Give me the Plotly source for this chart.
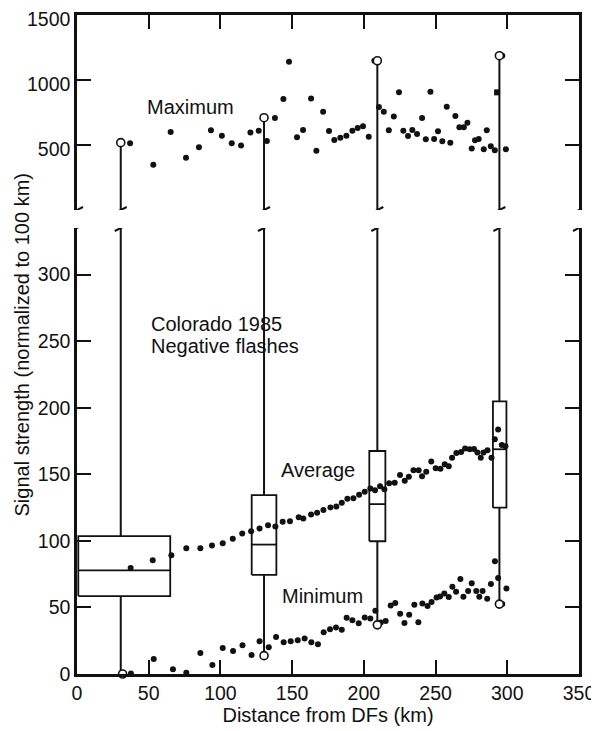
import plotly.graph_objects as go

# ---------------- data ----------------
max_x = [37, 53.2, 65.3, 76, 85, 93.4, 101, 107.9, 114.4, 120.9, 126.7, 132.4, 138, 143.9, 147.8,
         153.4, 157.6, 163.2, 166.9, 171.6, 175.7, 179.4, 183.6, 187.8, 192, 195.7, 199.4, 203.4,
         207.3, 210.5, 213.9, 217.4, 220.9, 224.5, 227.5, 230.8, 233.8, 237.1, 240.6, 243.2, 246.4,
         249, 251.7, 254.7, 257.8, 260.3, 263.8, 266.6, 269.7, 272.2, 275.2, 277.5, 280.1, 283.6,
         285.7, 288.5, 291.3, 296.5, 299]
max_y = [513, 349, 600, 402, 482, 613, 572, 513, 497, 597, 610, 531, 708, 854, 1141,
         559, 615, 857, 456, 756, 608, 538, 556, 572, 610, 631, 644, 564,
         1149, 793, 756, 613, 720, 905, 610, 569, 615, 585, 708, 544, 910,
         546, 605, 528, 795, 518, 723, 636, 636, 672, 474, 536, 546, 467,
         613, 490, 459, 1187, 467]
max_sq_x = [292.9]
max_sq_y = [905]

avg_x = [37.4, 52.8, 65.8, 76.2, 86, 94.1, 101.6, 108.6, 115.2, 121.4,
         127.3, 133.2, 138.3, 143.4, 148.5, 154.6, 157.8, 163.2, 167.4, 171.8,
         176.7, 180.8, 184.6, 188.5, 192.7, 196.7, 200.6, 204.5, 207.8, 211.3,
         214.3, 217.6, 221.5, 225.2, 228.5, 231.4, 234.6, 238.2, 240.6, 243.5,
         247, 250.1, 253.4, 256.4, 259.2, 261.5, 264.5, 267.8, 270.6, 273.8,
         276.8, 279.2, 281.5, 283.4, 286.2, 289, 291.3, 293.6, 296.2, 298.7]
avg_y = [79.6, 85.4, 89.2, 94.4, 94.4, 96.5, 98.2, 101.5, 105.6, 107.2,
         109.3, 111.8, 110.8, 114.3, 114.8, 117.8, 116.8, 119.8, 121.1, 123.1,
         125.1, 125.8, 128.6, 131.6, 132.1, 134.6, 136.9, 139.4, 138.1, 141.1,
         138.7, 143.2, 143.7, 149.5, 145.2, 148.2, 153.1, 153, 148.6, 151.9,
         159.6, 154.6, 154.2, 157.5, 156, 162.5, 166, 166.8, 169.3, 168.8,
         169, 166.3, 162.5, 166.3, 168, 162.5, 176.3, 183.6, 172, 171.1]

min_x = [37.6, 53.5, 66.9, 76.2, 86, 94.4, 101.6, 108.8, 115.4, 121.7,
         127.3, 133.7, 138.8, 144.1, 149, 153.9, 158.7, 163.4, 168, 172,
         176.4, 180.6, 184.6, 188, 192, 196.4, 200.6, 204.5, 208, 211.8,
         215.2, 218.7, 221.9, 225.3, 228.3, 231.6, 235.2, 238, 240.8, 244.4,
         247.2, 250.7, 253.1, 256.1, 259.2, 261.7, 264.3, 267.3, 269.4, 272.7,
         275.2, 278.4, 280.5, 282.8, 286, 288.6, 291.4, 293.6, 296.5, 299.4]
min_y = [0.3, 11.3, 3.5, 1, 15.8, 6.8, 19.6, 17.3, 21.6, 14.3,
         24.6, 20.1, 27.7, 23.9, 24.6, 25.4, 26.6, 23.9, 22.4, 31.4,
         33.7, 34.9, 33.2, 42.2, 40.4, 38.2, 42.4, 41.7, 47.5, 38.7,
         39.9, 51.5, 53.3, 45.2, 38.3, 44.5, 52, 38.8, 52.9, 51,
         54, 57.5, 58.3, 60.5, 57.8, 65.6, 61.8, 71.4, 58, 62.3,
         68.1, 62.3, 58, 62.3, 56.5, 67.6, 84.6, 72.1, 52.5, 64.3]

# box summaries (per distance bin)
box_whisker_x = [30.5, 130.4, 209.4, 294.5]
box_left = [0.9, 121.8, 203.8, 290.0]
box_right = [65.0, 139.0, 215.0, 299.4]
box_q1 = [58.5, 74.4, 99.7, 124.9]
box_med = [77.9, 97.2, 127.6, 168.8]
box_q3 = [103.5, 134.4, 167.5, 204.7]
box_min = [0, 13.8, 36.9, 52.5]
box_min_x = [31.8, 130.4, 209.4, 294.5]
box_max = [518, 710, 1148, 1187]

x_ticks = [0, 50, 100, 150, 200, 250, 300, 350]
y_low_ticks = [0, 50, 100, 150, 200, 250, 300]
y_high_ticks = [500, 1000, 1500]
LOW_TOP = 335
HIGH_BOTTOM = 0

FONT = "Liberation Sans, Arial, Helvetica, sans-serif"
INK = "#111111"

fig = go.Figure()

# --- boxes (bottom panel) ---
bx, by = [], []
for l, r, q1, md, q3 in zip(box_left, box_right, box_q1, box_med, box_q3):
    bx += [l, r, r, l, l, None, l, r, None]
    by += [q1, q1, q3, q3, q1, None, md, md, None]
fig.add_trace(go.Scatter(x=bx, y=by, mode="lines", line=dict(color=INK, width=1.8),
                         xaxis="x", yaxis="y", hoverinfo="skip", cliponaxis=False))

# --- whiskers ---
wx, wy = [], []
for x, q1, q3, mn in zip(box_whisker_x, box_q1, box_q3, box_min):
    wx += [x, x, None, x, x, None]
    wy += [q3, LOW_TOP, None, q1, mn, None]
fig.add_trace(go.Scatter(x=wx, y=wy, mode="lines", line=dict(color=INK, width=2),
                         xaxis="x", yaxis="y", hoverinfo="skip", cliponaxis=False))
wx2, wy2 = [], []
for x, mx in zip(box_whisker_x, box_max):
    wx2 += [x, x, None]
    wy2 += [HIGH_BOTTOM, mx, None]
fig.add_trace(go.Scatter(x=wx2, y=wy2, mode="lines", line=dict(color=INK, width=2),
                         xaxis="x2", yaxis="y2", hoverinfo="skip", cliponaxis=False))

dot = dict(color=INK, size=6)
# --- series points ---
fig.add_trace(go.Scatter(x=avg_x, y=avg_y, mode="markers", marker=dot,
                         xaxis="x", yaxis="y", cliponaxis=False))
fig.add_trace(go.Scatter(x=min_x, y=min_y, mode="markers", marker=dot,
                         xaxis="x", yaxis="y", cliponaxis=False))
fig.add_trace(go.Scatter(x=max_x, y=max_y, mode="markers", marker=dot,
                         xaxis="x2", yaxis="y2", cliponaxis=False))
fig.add_trace(go.Scatter(x=max_sq_x, y=max_sq_y, mode="markers",
                         marker=dict(color=INK, size=6, symbol="square"),
                         xaxis="x2", yaxis="y2", cliponaxis=False))

# --- open circles for extreme values ---
circ = dict(color="white", size=8, line=dict(color=INK, width=1.6))
fig.add_trace(go.Scatter(x=box_min_x, y=box_min, mode="markers", marker=circ,
                         xaxis="x", yaxis="y", cliponaxis=False))
fig.add_trace(go.Scatter(x=box_whisker_x, y=box_max, mode="markers", marker=circ,
                         xaxis="x2", yaxis="y2", cliponaxis=False))

# --- axis break marks ---
shapes = []
for bxp in [x_ticks[0]] + box_whisker_x + [x_ticks[-1]]:
    for yref, yanc in (("y2", HIGH_BOTTOM), ("y", LOW_TOP)):
        shapes.append(dict(type="line", xref="x", yref=yref, xsizemode="pixel", ysizemode="pixel",
                           xanchor=bxp, yanchor=yanc, x0=-6, x1=6, y0=-3, y1=3,
                           line=dict(color=INK, width=2)))

# --- annotations ---
tf = dict(family=FONT, size=20, color=INK)
annotations = [
    dict(x=79, y=795, xref="x2", yref="y2", text="Maximum", showarrow=False, font=tf),
    dict(x=50.5, y=263, xref="x", yref="y", text="Colorado 1985", showarrow=False,
         xanchor="left", font=tf),
    dict(x=50.5, y=246.5, xref="x", yref="y", text="Negative flashes", showarrow=False,
         xanchor="left", font=tf),
    dict(x=168, y=153, xref="x", yref="y", text="Average", showarrow=False, font=tf),
    dict(x=171.4, y=58.3, xref="x", yref="y", text="Minimum", showarrow=False, font=tf),
    dict(x=0, y=0.5, xref="paper", yref="paper", xshift=-56, text="Signal strength (normalized to 100 km)",
         textangle=-90, showarrow=False, font=tf, xanchor="center", yanchor="middle"),
]

axis_common = dict(showline=True, linecolor=INK, linewidth=2.5, ticks="inside", tickcolor=INK,
                   tickwidth=2, ticklen=14, showgrid=False, zeroline=False, automargin=False,
                   ticklabeloverflow="allow",
                   tickfont=dict(family=FONT, size=19.5, color=INK))

# the page places the figure 8px from the top-left corner of the window
fig.update_layout(
    width=591, height=723,
    margin=dict(l=69, r=20, t=7, b=57, autoexpand=False),
    paper_bgcolor="white", plot_bgcolor="white",
    showlegend=False,
    font=dict(family=FONT, color=INK),
    xaxis=dict(axis_common, domain=[0, 1], anchor="y", range=[0, 350], tickvals=x_ticks,
               title=dict(text="Distance from DFs (km)", font=tf, standoff=2)),
    xaxis2=dict(axis_common, domain=[0, 1], anchor="y2", side="top", range=[0, 350],
                tickvals=x_ticks, showticklabels=False, matches="x"),
    yaxis=dict(axis_common, domain=[0, 0.6768], anchor="x", range=[0, LOW_TOP],
               tickvals=y_low_ticks, mirror="ticks"),
    yaxis2=dict(axis_common, domain=[0.7041, 1], anchor="x2", range=[0, 1500],
                tickvals=y_high_ticks, mirror="ticks", ticklabelshift=4),
    shapes=shapes,
    annotations=annotations,
)

fig.write_html("out.html")
